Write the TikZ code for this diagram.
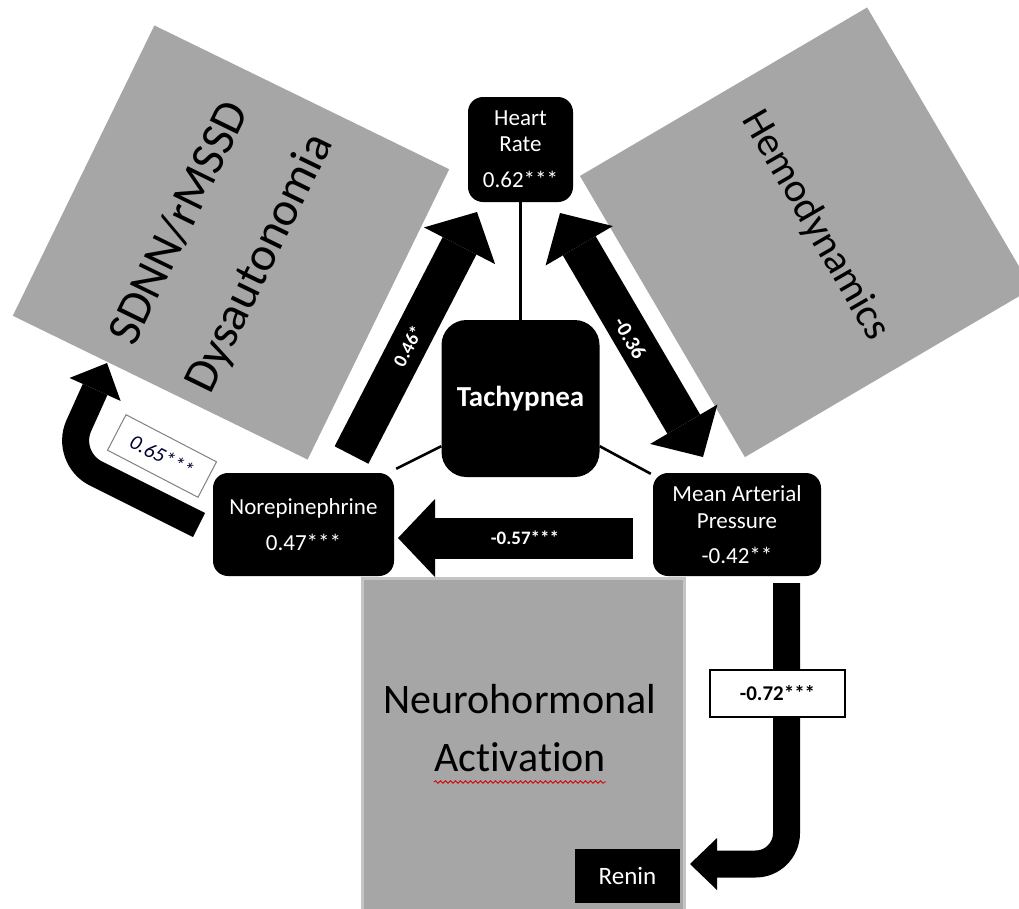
\documentclass[tikz,border=0pt]{standalone}
\usepackage{fontspec}
\setmainfont{Carlito}[Ligatures={NoCommon,NoRare,NoContextual}]
\usetikzlibrary{arrows.meta,decorations.pathmorphing}
\definecolor{boxgray}{HTML}{A6A6A6}
\definecolor{edgegray}{HTML}{C4C4C4}
\definecolor{labgray}{HTML}{808080}
\begin{document}
\begin{tikzpicture}[x=1pt,y=-1pt,
  graysq/.style={fill=boxgray, draw=none, inner sep=0pt, shape=rectangle},
  blackbox/.style={fill=black, text=white, rounded corners=15pt, inner sep=0pt, align=center},
  bigtext/.style={font=\fontsize{#1}{#1}\selectfont, text=black, anchor=base, inner sep=0pt},
  boxtext/.style={font=\fontsize{23}{#1}\selectfont},
  thinln/.style={line width=2.6pt},
  bandlab/.style={text=white, inner sep=0pt, font=\bfseries\fontsize{#1}{#1}\selectfont},
  tipA/.style={-{Triangle[width=80pt,length=38pt,line width=0pt]}}
]
\useasboundingbox (0,0) rectangle (1019,908);
\clip (0,0) rectangle (1019,908);

% gray theme squares
\node[graysq, minimum width=328pt, minimum height=323pt, rotate=-26] (sdnn) at (231,242.5) {};
\node[graysq, minimum width=326pt, minimum height=333pt, rotate=-59.6] (hemo) at (806,232.3) {};
\draw[fill=boxgray, draw=edgegray, line width=3pt] (362,578) rectangle (684,914);
\coordinate (neuro) at (523,745);

% texts in gray squares
\node[bigtext=48, rotate=64] (t1) at (192,229) {SDNN/rMSSD};
\node[bigtext=48, rotate=64] (t2) at (272,269) {Dysautonomia};
\node[bigtext=41, rotate=-60] (t3) at (806,231) {Hemodynamics};
\node[bigtext=42] (t4) at (520,713) {Neurohormonal};
\node[bigtext=42] (t5) at (520,771) {Activation};
\draw[red!85!black, line width=0.8pt, decorate, decoration={snake, amplitude=1.3pt, segment length=5pt}]
  ([yshift=-11pt]t5.base west) -- ([yshift=-11pt]t5.base east);

% black boxes
\node[blackbox, minimum width=105pt, minimum height=105pt, boxtext=26] (hr) at (520.5,149.5) {Heart\\Rate\\[10pt]0.62***};
\node[blackbox, rounded corners=25pt, minimum width=158pt, minimum height=157pt,
      font=\bfseries\fontsize{29}{29}\selectfont] (tachy) at (520.5,398.5) {Tachypnea};
\node[blackbox, minimum width=181pt, minimum height=103pt, boxtext=26] (nore) at (303.5,524.5) {Norepinephrine\\[10pt]0.47***};
\node[blackbox, minimum width=168pt, minimum height=103pt, boxtext=27] (map) at (737,524.5) {Mean Arterial\\Pressure\\[8pt]-0.42**};
\node[fill=black, text=white, inner sep=0pt, minimum width=105pt, minimum height=54pt,
      font=\fontsize{25}{25}\selectfont] (renin) at (627.5,876) {Renin};

% thin connectors to Tachypnea
\draw[thinln] (hr.south) -- (tachy.north);
\draw[thinln] ([yshift=31pt]tachy.south west) -- ([xshift=2pt,yshift=4pt]nore.north east);
\draw[thinln] ([yshift=31pt]tachy.south east) -- ([xshift=-2pt,yshift=-1pt]map.north west);

% block arrows
\coordinate (a1t) at (351.5,455);
\coordinate (a1h) at (477,212);
\draw[line width=38pt, tipA] (a1t) -- (a1h);

\coordinate (a2a) at (560,213);
\coordinate (a2b) at (703,457);
\draw[line width=38pt, {Triangle[width=78pt,length=38pt,line width=0pt]}-{Triangle[width=78pt,length=38pt,line width=0pt]}] (a2a) -- (a2b);

\coordinate (a3t) at (633,538);
\coordinate (a3h) at (398,538);
\draw[line width=41pt, -{Triangle[width=78pt,length=37pt,line width=0pt]}] (a3t) -- (a3h);

\coordinate (a4t) at (199,525);
\coordinate (a4c) at (64.4,457.7);
\coordinate (a4h) at (107,363);
\draw[line width=27pt, rounded corners=35pt, -{Triangle[width=56pt,length=29pt,line width=0pt]}] (a4t) -- (a4c) -- (a4h);

\coordinate (a5t) at (786.5,583);
\coordinate (a5h) at (690,864);
\draw[line width=27pt, rounded corners=31pt, -{Triangle[width=52pt,length=27pt,line width=0pt]}] (a5t) |- (a5h);

% labels
\node[bandlab=19, rotate=62.6] (l1) at (408,346) {0.46*};
\node[bandlab=21, rotate=-59.6] (l2) at (630,338) {-0.36};
\node[bandlab=19] (l3) at (525,538) {-0.57***};
\node[draw=black, line width=1.2pt, fill=white, inner sep=0pt, minimum width=135pt, minimum height=47pt,
      font=\bfseries\fontsize{21}{21}\selectfont] (l4) at (777.5,693.5) {-0.72***};
\node[draw=labgray, line width=1pt, fill=white, inner sep=0pt, minimum width=102pt, minimum height=40pt,
      rotate=-27.5, text=black!80!blue, font=\itshape\fontsize{21}{21}\selectfont] (l5) at (162,456) {0.65***};
\end{tikzpicture}
\end{document}
